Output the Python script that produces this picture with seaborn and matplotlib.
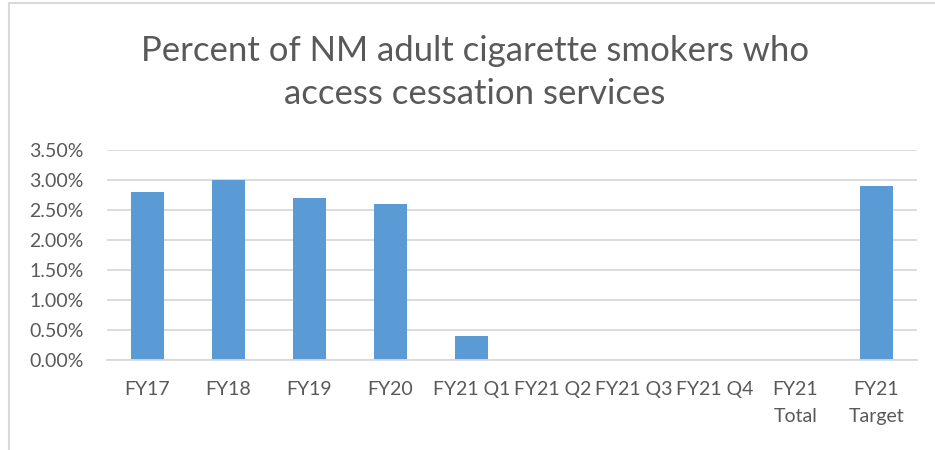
import pandas as pd
import matplotlib
matplotlib.use("Agg")
import matplotlib.pyplot as plt
import seaborn as sns
from matplotlib.ticker import FuncFormatter
from matplotlib.lines import Line2D

categories = ["FY17", "FY18", "FY19", "FY20", "FY21 Q1", "FY21 Q2",
              "FY21 Q3", "FY21 Q4", "FY21\nTotal", "FY21\nTarget"]
values = [0.028, 0.030, 0.027, 0.026, 0.004, 0.0, 0.0, 0.0, 0.0, 0.029]
y_ticks = [0.0, 0.005, 0.010, 0.015, 0.020, 0.025, 0.030, 0.035]

df = pd.DataFrame({"category": categories, "value": values})

sns.set_style("white")
plt.rcParams["font.family"] = ["Lato", "DejaVu Sans"]

text_color = "#595959"
grid_color = "#d9d9d9"

fig = plt.figure(figsize=(9.35, 4.5), dpi=100)
ax = fig.add_axes([107 / 935, 0.2, 810 / 935, 210 / 450])

sns.barplot(data=df, x="category", y="value", color="#5B9BD5",
            width=0.4, saturation=1, linewidth=0, ax=ax, zorder=3)

ax.set_ylim(0, 0.035)
ax.set_yticks(y_ticks)
ax.yaxis.set_major_formatter(FuncFormatter(lambda v, _: f"{v * 100:.2f}%"))
ax.set_xlim(-0.5, len(categories) - 0.5)
ax.grid(axis="y", color=grid_color, linewidth=1.3, zorder=0)
ax.set_xlabel("")
ax.set_ylabel("")
for side in ["top", "right", "left"]:
    ax.spines[side].set_visible(False)
ax.spines["bottom"].set_color(grid_color)
ax.spines["bottom"].set_linewidth(1.3)
ax.spines["bottom"].set_zorder(4)
ax.tick_params(axis="both", length=0, labelsize=14, colors=text_color)
ax.tick_params(axis="x", pad=15)
ax.tick_params(axis="y", pad=17)
for lbl in ax.get_xticklabels():
    lbl.set_linespacing(1.75)

fig.suptitle("Percent of NM adult cigarette smokers who\naccess cessation services",
             x=0.508, y=0.922, fontsize=25, color=text_color,
             linespacing=1.42)

# chart border (left and top edges visible)
fig.add_artist(Line2D([8.5 / 935, 8.5 / 935], [0, 1 - 3 / 450],
                      color=grid_color, linewidth=1.5, transform=fig.transFigure))
fig.add_artist(Line2D([8.5 / 935, 1], [1 - 3 / 450, 1 - 3 / 450],
                      color=grid_color, linewidth=1.5, transform=fig.transFigure))

fig.savefig("out.png", dpi=100)
